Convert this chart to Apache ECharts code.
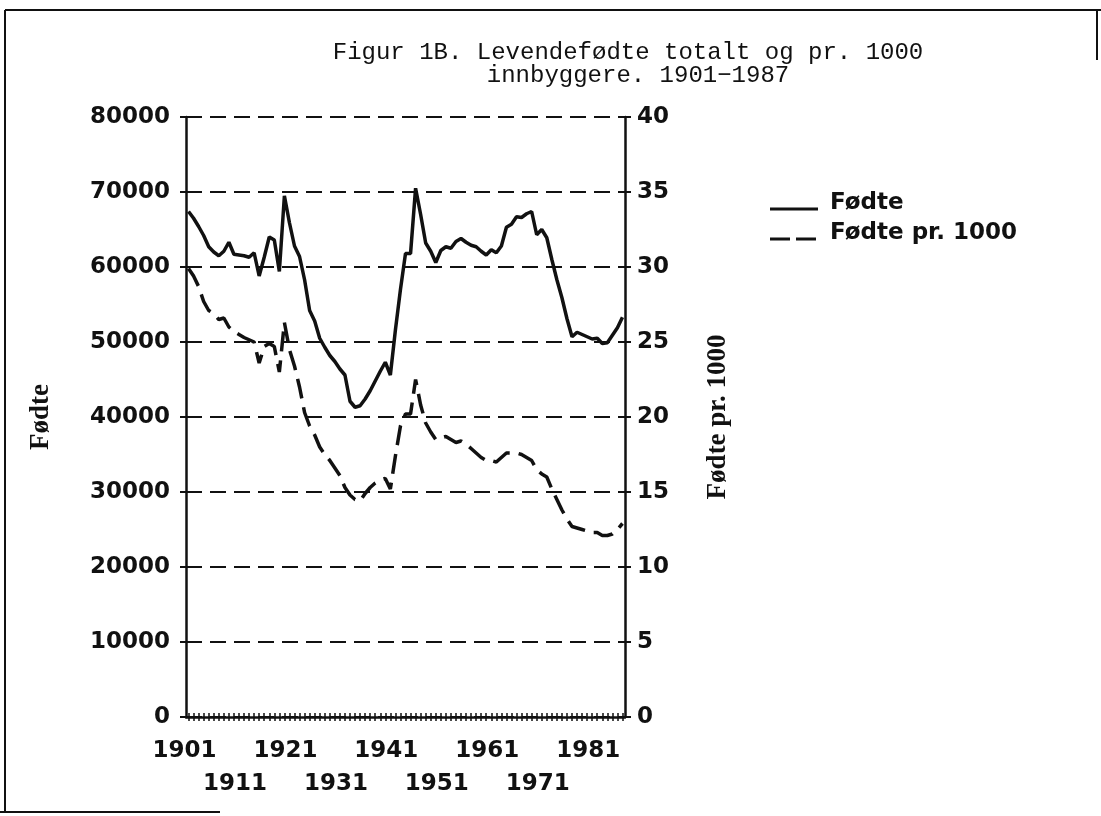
<!DOCTYPE html>
<html>
<head>
<meta charset="utf-8">
<script src="https://cdn.jsdelivr.net/npm/echarts@6/dist/echarts.min.js"></script>
<style>
  html, body { margin: 0; padding: 0; background: #fff; }
  #chart { width: 1101px; height: 816px; }
</style>
</head>
<body>
<div id="chart"></div>
<script>
const years = [
  '1901','1902','1903','1904','1905','1906','1907','1908','1909','1910',
  '1911','1912','1913','1914','1915','1916','1917','1918','1919','1920',
  '1921','1922','1923','1924','1925','1926','1927','1928','1929','1930',
  '1931','1932','1933','1934','1935','1936','1937','1938','1939','1940',
  '1941','1942','1943','1944','1945','1946','1947','1948','1949','1950',
  '1951','1952','1953','1954','1955','1956','1957','1958','1959','1960',
  '1961','1962','1963','1964','1965','1966','1967','1968','1969','1970',
  '1971','1972','1973','1974','1975','1976','1977','1978','1979','1980',
  '1981','1982','1983','1984','1985','1986','1987'
];

// tick labels, first row and second row under the axis
const labelsRow1 = ['1901', '1921', '1941', '1961', '1981'];
const labelsRow2 = ['1911', '1931', '1951', '1971'];

// Fødte (levendefødte totalt)
const births = [
  67400, 66500, 65400, 64200, 62700, 62000, 61500, 62100, 63300, 61700,
  61600, 61500, 61300, 61900, 58800, 61300, 64000, 63600, 59400, 69500,
  65900, 62800, 61400, 58300, 54200, 52800, 50500, 49300, 48200, 47400,
  46400, 45600, 42100, 41300, 41500, 42400, 43500, 44800, 46100, 47300,
  45600, 51600, 57000, 61800, 61800, 70500, 67000, 63200, 62100, 60600,
  62200, 62700, 62500, 63400, 63800, 63300, 62900, 62700, 62100, 61600,
  62300, 61900, 62800, 65300, 65700, 66700, 66600, 67100, 67400, 64300,
  65000, 63900, 61000, 58300, 55900, 53100, 50700, 51300, 51000, 50700,
  50400, 50500, 49800, 49900, 50900, 51900, 53300
];

// Fødte pr. 1000 innbyggere
const perThousand = [
  29.9, 29.4, 28.7, 27.7, 27.1, 26.9, 26.5, 26.6, 26.0, 25.7,
  25.5, 25.3, 25.15, 25.0, 23.6, 24.7, 24.9, 24.7, 23.0, 26.3,
  24.5, 23.4, 22.0, 20.3, 19.4, 18.8, 18.0, 17.5, 17.1, 16.6,
  16.1, 15.3, 14.8, 14.5, 14.4, 14.9, 15.3, 15.6, 15.8, 15.9,
  15.2, 17.4, 19.4, 20.2, 20.2, 22.5, 20.8, 19.6, 19.0, 18.5,
  18.6, 18.7, 18.5, 18.3, 18.4, 18.2, 17.9, 17.6, 17.3, 17.1,
  17.1, 17.0, 17.3, 17.6, 17.6, 17.6, 17.5, 17.3, 17.1, 16.5,
  16.2, 16.0, 15.2, 14.5, 13.8, 13.2, 12.7, 12.6, 12.5, 12.4,
  12.3, 12.3, 12.1, 12.1, 12.2, 12.5, 12.9
];

const titleLines = ['Figur 1B. Levendefødte totalt og pr. 1000', 'innbyggere. 1901\u22121987'];
const seriesNames = ['Fødte', 'Fødte pr. 1000'];
const leftName = 'Fødte';
const rightName = 'Fødte pr. 1000';

const wideFont = 'DejaVu Sans';
const ink = '#111';
const dashPattern = [20, 9];

const chart = echarts.init(document.getElementById('chart'));

const labelStyle = {
  fontFamily: wideFont,
  fontWeight: 'bold',
  fontSize: 23,
  color: ink
};

const option = {
  animation: false,
  backgroundColor: '#fff',
  legend: { show: false },
  grid: {
    left: 186,
    right: 476,
    top: 117,
    bottom: 99
  },
  xAxis: [
    {
      type: 'category',
      data: years,
      boundaryGap: true,
      position: 'bottom',
      axisLine: { lineStyle: { color: ink, width: 2.5 } },
      axisTick: { show: true, interval: 0, alignWithLabel: true, length: 4, lineStyle: { color: ink, width: 1.5 } },
      axisLabel: Object.assign({}, labelStyle, {
        interval: 0,
        margin: 23,
        padding: [0, 8, 0, 0],
        showMinLabel: true,
        showMaxLabel: true,
        hideOverlap: false,
        formatter: v => (labelsRow1.includes(v) ? v : '')
      }),
      splitLine: { show: false }
    },
    {
      type: 'category',
      data: years,
      boundaryGap: true,
      position: 'bottom',
      axisLine: { show: false },
      axisTick: { show: true, inside: true, interval: 0, alignWithLabel: true, length: 4, lineStyle: { color: ink, width: 1.5 } },
      axisLabel: Object.assign({}, labelStyle, {
        interval: 0,
        margin: 56,
        padding: [0, 8, 0, 0],
        showMinLabel: true,
        showMaxLabel: true,
        hideOverlap: false,
        formatter: v => (labelsRow2.includes(v) ? v : '')
      }),
      splitLine: { show: false }
    }
  ],
  yAxis: [
    {
      type: 'value',
      min: 0,
      max: 80000,
      interval: 10000,
      position: 'left',
      name: leftName,
      nameLocation: 'middle',
      nameGap: 131,
      nameRotate: 90,
      nameTextStyle: { fontFamily: 'Liberation Serif', fontWeight: 'bold', fontSize: 27, color: ink },
      axisLine: { show: true, lineStyle: { color: ink, width: 2.5 } },
      axisTick: { show: true, length: 6, lineStyle: { color: ink, width: 2 } },
      axisLabel: Object.assign({}, labelStyle, { margin: 16, formatter: v => String(v) }),
      splitLine: { show: true, lineStyle: { color: ink, width: 2, type: [16, 8] } }
    },
    {
      type: 'value',
      min: 0,
      max: 40,
      interval: 5,
      position: 'right',
      name: rightName,
      nameLocation: 'middle',
      nameGap: 80,
      nameRotate: 90,
      nameTextStyle: { fontFamily: 'Liberation Serif', fontWeight: 'bold', fontSize: 27, color: ink },
      axisLine: { show: true, lineStyle: { color: ink, width: 2.5 } },
      axisTick: { show: true, length: 6, lineStyle: { color: ink, width: 2 } },
      axisLabel: Object.assign({}, labelStyle, { margin: 12, formatter: v => String(v) }),
      splitLine: { show: false }
    }
  ],
  series: [
    {
      name: seriesNames[0],
      type: 'line',
      xAxisIndex: 0,
      yAxisIndex: 0,
      data: births,
      showSymbol: false,
      symbol: 'none',
      lineStyle: { color: ink, width: 3.5, type: 'solid' },
      itemStyle: { color: ink }
    },
    {
      name: seriesNames[1],
      type: 'line',
      xAxisIndex: 0,
      yAxisIndex: 1,
      data: perThousand,
      showSymbol: false,
      symbol: 'none',
      lineStyle: { color: ink, width: 3.5, type: dashPattern },
      itemStyle: { color: ink }
    }
  ],
  graphic: [
    // title
    {
      type: 'text', x: 628, y: 53,
      style: { text: titleLines[0], align: 'center', verticalAlign: 'middle', font: '24px "Liberation Mono"', fill: ink }
    },
    {
      type: 'text', x: 638, y: 76,
      style: { text: titleLines[1], align: 'center', verticalAlign: 'middle', font: '24px "Liberation Mono"', fill: ink }
    },
    // legend
    { type: 'line', shape: { x1: 770, y1: 209, x2: 818, y2: 209 }, style: { stroke: ink, lineWidth: 3 } },
    {
      type: 'text', x: 830, y: 203,
      style: { text: seriesNames[0], verticalAlign: 'middle', font: 'bold 23px "DejaVu Sans"', fill: ink }
    },
    { type: 'line', shape: { x1: 770, y1: 239, x2: 818, y2: 239 }, style: { stroke: ink, lineWidth: 3, lineDash: [20, 6] } },
    {
      type: 'text', x: 830, y: 233,
      style: { text: seriesNames[1], verticalAlign: 'middle', font: 'bold 23px "DejaVu Sans"', fill: ink }
    },
    // frame
    { type: 'line', shape: { x1: 5, y1: 10, x2: 1101, y2: 10 }, style: { stroke: ink, lineWidth: 2 } },
    { type: 'line', shape: { x1: 5, y1: 10, x2: 5, y2: 812 }, style: { stroke: ink, lineWidth: 2 } },
    { type: 'line', shape: { x1: 0, y1: 812, x2: 220, y2: 812 }, style: { stroke: ink, lineWidth: 2 } },
    { type: 'line', shape: { x1: 1097, y1: 10, x2: 1097, y2: 60 }, style: { stroke: ink, lineWidth: 2 } }
  ]
};

chart.setOption(option);
</script>
</body>
</html>
